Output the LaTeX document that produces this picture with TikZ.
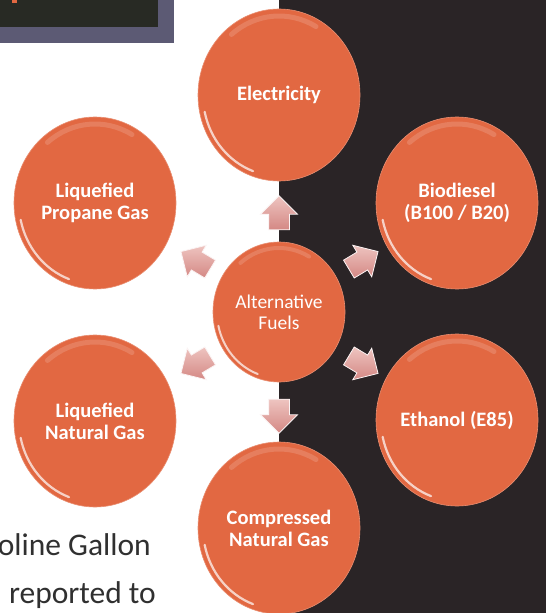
\documentclass[tikz,border=0pt]{standalone}
\usepackage{fontspec}
\setmainfont{Carlito}
\usetikzlibrary{shapes.geometric,shapes.arrows}
\definecolor{bgdark}{RGB}{42,36,38}
\definecolor{ballorange}{RGB}{226,104,66}
\definecolor{arrowpink}{RGB}{212,136,132}
\definecolor{arrowlight}{RGB}{238,196,192}
\definecolor{framegray}{RGB}{92,90,116}
\definecolor{framedark}{RGB}{40,42,36}
\definecolor{textgray}{RGB}{48,48,48}
\tikzset{
  ball/.style={ellipse, fill=ballorange, draw=ballorange!75!white, line width=0.6bp,
    minimum width=162bp, minimum height=172bp, inner sep=0pt,
    text=white, align=center, font=\bfseries\fontsize{20.5bp}{22bp}\selectfont,
    path picture={
      \draw[white, opacity=0.7, line width=2.2bp, line cap=round]
        (path picture bounding box.center) ++(192:76bp and 81bp)
        arc[start angle=192, end angle=250, x radius=76bp, y radius=81bp];
      \draw[white, opacity=0.15, line width=5bp, line cap=round]
        (path picture bounding box.center) ++(60:74bp and 79bp)
        arc[start angle=60, end angle=130, x radius=74bp, y radius=79bp];
    }},
  hubball/.style={ball, minimum width=132bp, minimum height=140bp,
    font=\fontsize{19.5bp}{21bp}\selectfont,
    path picture={
      \draw[white, opacity=0.7, line width=2bp, line cap=round]
        (path picture bounding box.center) ++(192:62bp and 66bp)
        arc[start angle=192, end angle=250, x radius=62bp, y radius=66bp];
      \draw[white, opacity=0.15, line width=4bp, line cap=round]
        (path picture bounding box.center) ++(60:60bp and 64bp)
        arc[start angle=60, end angle=130, x radius=60bp, y radius=64bp];
    }},
  blockarrow/.style={single arrow, single arrow head extend=8bp,
    minimum height=34bp, inner sep=0pt, text width=0pt,
    text height=10bp, text depth=10bp,
    top color=arrowlight, bottom color=arrowpink, draw=white!90!arrowpink, line width=0.8bp},
  sidetext/.style={anchor=base east, text=textgray, font=\fontsize{31.5bp}{32bp}\selectfont, inner sep=0pt}
}
\begin{document}
\begin{tikzpicture}[x=1bp, y=-1bp]
\useasboundingbox (0,0) rectangle (546,613);
\fill[white] (0,0) rectangle (546,613);
\fill[bgdark] (279,0) rectangle (546,613);
% top-left frame
\fill[framegray] (0,0) rectangle (174,43);
\fill[framedark] (0,0) rectangle (158,27);
\fill[ballorange] (12,0) rectangle (17,3);
% hub and outer fuels
\node[hubball] (hub) at (279,312) {Alternative\\Fuels};
\node[ball] (elec) at (279,95) {Electricity};
\node[ball] (lpg) at (95,203) {Liquefied\\Propane Gas};
\node[ball] (bio) at (457,203) {Biodiesel\\(B100 / B20)};
\node[ball] (lng) at (95,421) {Liquefied\\Natural Gas};
\node[ball] (eth) at (457,420) {Ethanol (E85)};
\node[ball] (cng) at (279,528) {Compressed\\Natural Gas};
% arrows
\node[blockarrow, rotate=90] (aup) at (279,218) {};
\node[blockarrow, rotate=149] (aul) at (200,263) {};
\node[blockarrow, rotate=31] (aur) at (359,263) {};
\node[blockarrow, rotate=211] (all) at (200,362) {};
\node[blockarrow, rotate=-31] (alr) at (359,362) {};
\node[blockarrow, rotate=-90] (adn) at (279,411) {};
% side text
\node[sidetext] (t1) at (151,555) {oline Gallon};
\node[sidetext] (t2) at (156,603) {reported to};
\end{tikzpicture}
\end{document}
